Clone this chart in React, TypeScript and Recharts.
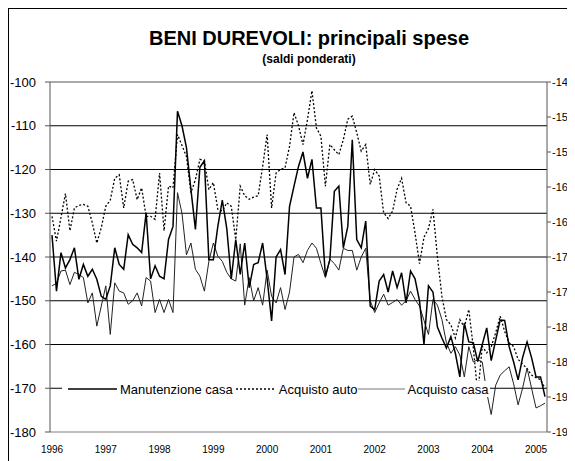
import React from 'react';
import { LineChart, Line, XAxis, YAxis, ReferenceLine } from 'recharts';

// monthly data, Jan 1996 .. Mar 2005
const years = [1996, 1997, 1998, 1999, 2000, 2001, 2002, 2003, 2004, 2005];
const monthCount = 111;

const manutenzioneCasa = [
  -135, -147.8, -139, -142.5, -140.6, -137.9, -145.1, -141.7, -144.4, -142.8, -145.1, -149,
  -149.7, -146.6, -137.9, -141.7, -142.8, -134.9, -137.1, -137.9, -139, -129.9, -145, -142,
  -144.4, -145, -136, -133, -106.7, -110, -115, -124.6, -133.7, -119.5, -118, -140.6,
  -140.6, -133, -127, -133.5, -145, -136, -144, -136.8, -147, -141.7, -141.3, -136.8,
  -145, -154.6, -140, -138.3, -144, -128.4, -123.8, -119.3, -116, -122, -117.7, -128.8,
  -128.8, -144.4, -140.6, -125, -123.8, -137.9, -133, -113.2, -136, -137.9, -131.8, -151.2,
  -152, -145.5, -144, -148, -143.2, -147, -143.6, -150.5, -143.2, -145, -150, -160,
  -146.6, -148, -156, -158.5, -160.8, -158.2, -162, -167.4, -155.1, -159.4, -159.6, -163.9,
  -160, -156.2, -163.7, -159, -154.4, -154.5, -160.5, -164, -168.1, -163, -159.4, -163,
  -167.4, -167.4, -171.9,
];

const acquistoAuto = [
  -130.7, -136.4, -131, -125.5, -134, -128.8, -128.2, -128, -128.4, -132.2, -136.8, -133.3,
  -128.4, -127, -122, -121.2, -128.8, -122.7, -122.3, -126.9, -124.2, -130.7, -130.7, -131.4,
  -120.8, -134, -123.8, -124.2, -112, -114.5, -117, -125.3, -122.3, -117.7, -118, -124.6,
  -123, -129.1, -129.5, -127.6, -128.4, -136, -123.8, -126, -126.8, -126.3, -126, -119.3,
  -112, -128.8, -120.8, -120, -119.6, -114.7, -107, -110, -114.3, -108.6, -102, -110.5,
  -112.4, -123.8, -114.3, -115.5, -116.6, -113.2, -108.5, -107.8, -111.6, -115.8, -114.3, -123.4,
  -120, -121.5, -129.9, -131.2, -129.5, -124.5, -122, -127.6, -128.4, -134.5, -141.5, -135.5,
  -133.5, -129.1, -140, -149, -154.3, -155.5, -158.5, -154.3, -156, -152, -160.7, -171.4,
  -160.4, -161.9, -160.5, -157.3, -153.5, -157, -159.6, -160.5, -163.4, -164.5, -165.5, -167,
  -167.6, -168, -170,
];

const acquistoCasa = [
  -146.6, -146, -143.2, -143, -146.3, -143.5, -144, -144.7, -150.5, -148.2, -155.8, -151.2,
  -146.6, -157.7, -145.9, -147.8, -148.2, -150.8, -150, -148.2, -151.2, -144.7, -145.5, -152.7,
  -149.7, -152.7, -149.7, -152.7, -125.3, -130, -139.5, -136.8, -142.8, -144.4, -147.8, -141,
  -136.8, -139.8, -141, -143.5, -145, -145.5, -137, -151, -144.7, -150, -147, -151,
  -143, -149, -150.5, -147, -152, -148, -140, -139.4, -141.3, -138.5, -136.8, -138,
  -141.5, -144.7, -140.5, -141.5, -143, -138, -138.5, -138.5, -143, -140, -138, -150,
  -152.7, -150.5, -148.5, -151, -150.4, -149.7, -151, -150, -147.8, -149.7, -151.2, -154.5,
  -157.7, -149.7, -151, -154.3, -159.6, -162, -160.5, -162.4, -167.4, -160.5, -164, -163.5,
  -164, -171, -176, -169.3, -167, -166, -165.1, -169, -173.8, -170, -165.4, -170,
  -174.5, -174, -173.4,
];

const leftTicks = [-100, -110, -120, -130, -140, -150, -160, -170, -180];
const rightTicks = [-145, -150, -155, -160, -165, -170, -175, -180, -185, -190, -195];
const gridValues = [-110, -120, -130, -140, -150, -160, -170];

const months: string[] = [];
years.forEach((y) => {
  for (let m = 1; m <= 12; m++) months.push(`${y}-${String(m).padStart(2, '0')}`);
});
const categories = months.slice(0, monthCount);
const yearTicks = years.map((y) => `${y}-01`);

const data = categories.map((month, i) => ({
  month,
  manutenzione: manutenzioneCasa[i],
  auto: acquistoAuto[i],
  casa: acquistoCasa[i],
}));

const font = '"Liberation Sans", Arial, sans-serif';

const LegendSample = ({ width, dash, color, strokeWidth }: { width: number; dash?: string; color: string; strokeWidth: number }) => (
  <svg width={width} height={10} style={{ display: 'block', marginRight: 3 }}>
    <line x1={0} y1={5} x2={width} y2={5} stroke={color} strokeWidth={strokeWidth} strokeDasharray={dash} />
  </svg>
);

export default function App() {
  return (
    <div style={{ width: 567, height: 453, overflow: 'hidden' }}>
      <div style={{ position: 'relative', width: 620, height: 470, border: '1px solid #000', fontFamily: font }}>
        <div style={{ position: 'absolute', left: 0, top: 19, width: 600, textAlign: 'center', fontSize: 20, lineHeight: '20px', fontWeight: 'bold' }}>
          BENI DUREVOLI: principali spese
        </div>
        <div style={{ position: 'absolute', left: 0, top: 44, width: 600, textAlign: 'center', fontSize: 12, lineHeight: '12px', fontWeight: 'bold' }}>
          (saldi ponderati)
        </div>
        <div style={{ position: 'absolute', left: 0, top: 0 }}>
          <LineChart width={610} height={452} data={data} margin={{ top: 63, right: 12, bottom: 4, left: 0 }}>
            <XAxis
              dataKey="month"
              ticks={yearTicks}
              interval={0}
              tickFormatter={(v: string) => v.slice(0, 4)}
              tick={{ fontSize: 10, fill: '#000', fontFamily: font }}
              tickLine={false}
              tickMargin={8}
              axisLine={{ stroke: '#808080' }}
              padding={{ left: 2, right: 2 }}
              height={25}
            />
            <XAxis
              xAxisId="top"
              orientation="top"
              dataKey="month"
              ticks={yearTicks}
              interval={0}
              tick={false}
              tickSize={4}
              tickLine={{ stroke: '#555' }}
              axisLine={{ stroke: '#555' }}
              padding={{ left: 2, right: 2 }}
              height={10}
            />
            <YAxis
              yAxisId="left"
              domain={[-180, -100]}
              ticks={leftTicks}
              interval={0}
              width={41}
              tickSize={5}
              tickMargin={9}
              tick={{ fontSize: 13, fill: '#000', fontFamily: font }}
              tickLine={{ stroke: '#555' }}
              axisLine={{ stroke: '#555' }}
            />
            <YAxis
              yAxisId="right"
              orientation="right"
              domain={[-195, -145]}
              ticks={rightTicks}
              interval={0}
              allowDataOverflow
              width={60}
              tickSize={4}
              tickMargin={1}
              tick={{ fontSize: 11, fill: '#000', fontFamily: font, textAnchor: 'start' }}
              tickLine={{ stroke: '#555' }}
              axisLine={{ stroke: '#555' }}
            />
            {gridValues.map((v) => (
              <ReferenceLine key={v} yAxisId="left" y={v} stroke="#000" strokeWidth={1} />
            ))}
            <Line
              yAxisId="left"
              type="linear"
              dataKey="auto"
              stroke="#000"
              strokeWidth={1.3}
              strokeDasharray="2 2"
              dot={false}
              isAnimationActive={false}
            />
            <Line
              yAxisId="left"
              type="linear"
              dataKey="casa"
              stroke="#222"
              strokeWidth={1}
              dot={false}
              isAnimationActive={false}
            />
            <Line
              yAxisId="left"
              type="linear"
              dataKey="manutenzione"
              stroke="#000"
              strokeWidth={1.5}
              dot={false}
              isAnimationActive={false}
            />
          </LineChart>
        </div>
        <div
          style={{
            position: 'absolute',
            left: 53,
            top: 372,
            height: 16,
            paddingLeft: 6,
            paddingRight: 2,
            background: '#fff',
            display: 'flex',
            alignItems: 'center',
            fontSize: 13,
            whiteSpace: 'nowrap',
          }}
        >
          <LegendSample width={49} color="#000" strokeWidth={1.5} />
          <span style={{ marginRight: 3 }}>Manutenzione casa</span>
          <LegendSample width={40} color="#000" strokeWidth={1.3} dash="2 2" />
          <span>Acquisto auto</span>
          <LegendSample width={47} color="#777" strokeWidth={1.2} />
          <span>Acquisto casa</span>
        </div>
      </div>
    </div>
  );
}
